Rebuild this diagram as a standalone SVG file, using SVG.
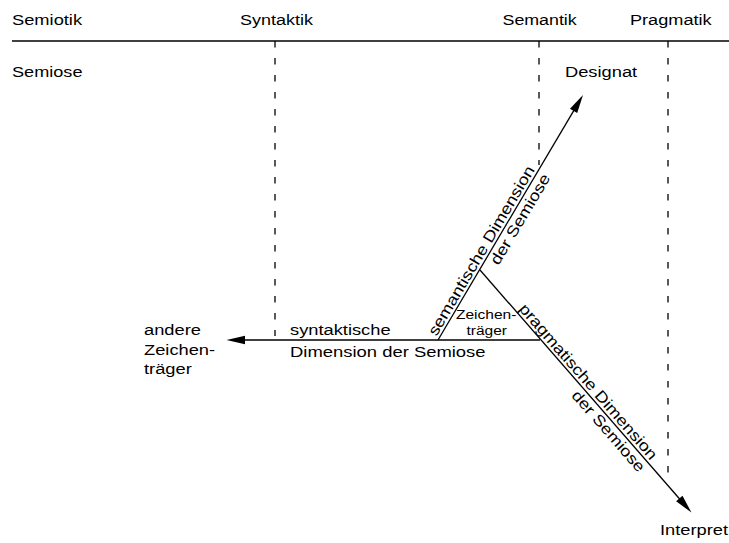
<svg xmlns="http://www.w3.org/2000/svg" width="729" height="543" viewBox="0 0 729 543">
<defs>
<style>
text{font-family:"Liberation Sans",Arial,Helvetica,sans-serif;font-size:15.5px;fill:#000}
.sm{font-size:13.5px}
.ln{stroke:#000;stroke-width:1.3;fill:none}
.ds{stroke:#000;stroke-width:1.3;fill:none;stroke-dasharray:6.5 10.5}
</style>
<marker id="ah" markerUnits="userSpaceOnUse" markerWidth="20" markerHeight="10" viewBox="-9 -5 20 10" refX="0" refY="0" orient="auto">
<path d="M10,0 L-8.5,-4.2 L-8.5,4.2 Z" fill="#000"/>
</marker>
</defs>
<rect width="729" height="543" fill="#fff"/>

<g id="header">
<text transform="translate(12,25) scale(1.18,1)">Semiotik</text>
<text transform="translate(240,25) scale(1.16,1)">Syntaktik</text>
<text transform="translate(502.5,25) scale(1.15,1)">Semantik</text>
<text transform="translate(630,25) scale(1.17,1)">Pragmatik</text>
<line class="ln" x1="12" y1="41" x2="729" y2="41"/>
</g>

<g id="dividers">
<line class="ds" x1="275" y1="41" x2="275" y2="336"/>
<line class="ds" x1="539" y1="41" x2="539" y2="165"/>
<line class="ds" x1="668" y1="41" x2="668" y2="480"/>
</g>

<g id="semiose">
<text transform="translate(12,77) scale(1.17,1)">Semiose</text>
</g>

<g id="designat">
<text transform="translate(565,77) scale(1.18,1)">Designat</text>
</g>

<g id="interpret">
<text transform="translate(660,535) scale(1.18,1)">Interpret</text>
</g>

<g id="andere">
<text transform="translate(144,335) scale(1.18,1)">andere</text>
<text transform="translate(144,354.5) scale(1.18,1)">Zeichen-</text>
<text transform="translate(144,374) scale(1.18,1)">träger</text>
</g>

<g id="zeichentraeger">
<text class="sm" transform="translate(456,318.5) scale(1.15,1)">Zeichen-</text>
<text class="sm" transform="translate(466.5,335) scale(1.15,1)">träger</text>
</g>

<g id="connectors">
<line class="ln" x1="540" y1="340" x2="236.5" y2="340" marker-end="url(#ah)"/>
<line class="ln" x1="438" y1="340" x2="577.9" y2="103.6" marker-end="url(#ah)"/>
<line class="ln" x1="480" y1="270" x2="684.9" y2="505" marker-end="url(#ah)"/>
</g>

<g id="labels">
<text transform="translate(290,335) scale(1.18,1)">syntaktische</text>
<text transform="translate(290,357) scale(1.19,1)">Dimension der Semiose</text>
<text text-anchor="end" transform="translate(535.2,169.8) rotate(-59.38) scale(1.18,1)">semantische Dimension</text>
<text text-anchor="end" transform="translate(550.8,177.8) rotate(-59.38) scale(1.18,1)">der Semiose</text>
<text text-anchor="end" transform="translate(650.5,460.9) rotate(48.9) scale(1.18,1)">pragmatische Dimension</text>
<text text-anchor="end" transform="translate(638.2,473.2) rotate(48.9) scale(1.18,1)">der Semiose</text>
</g>
</svg>
